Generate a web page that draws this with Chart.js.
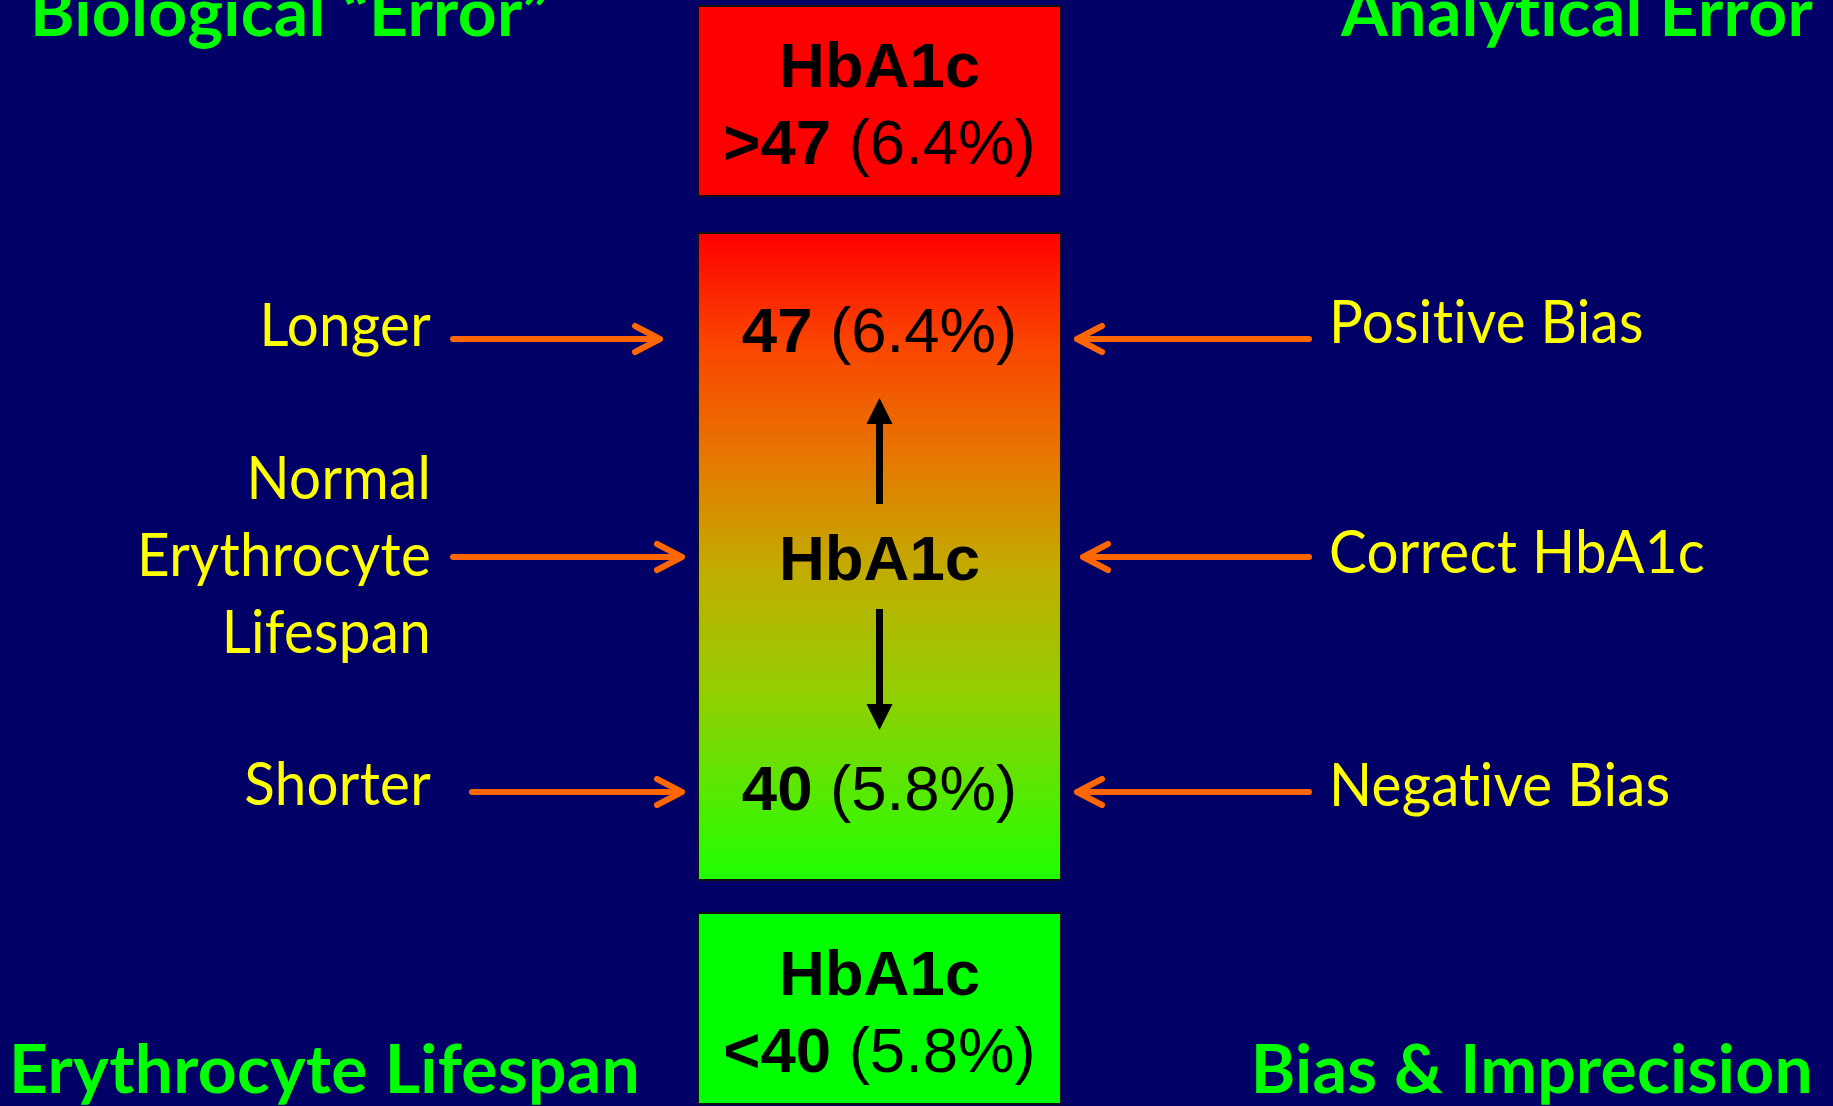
<!DOCTYPE html>
<html>
<head>
<meta charset="utf-8">
<script src="https://cdn.jsdelivr.net/npm/chart.js@4.4.1/dist/chart.umd.min.js"></script>
<style>
  html, body { margin: 0; padding: 0; background: #000066; }
  canvas { display: block; }
</style>
</head>
<body>
<canvas id="myChart" width="1833" height="1106"></canvas>
<script>
// --- content ---
const cornerTitles = ["Biological \u201CError\u201D", "Analytical Error", "Erythrocyte Lifespan", "Bias & Imprecision"]
const lifespanLabels = [["Longer"], ["Normal", "Erythrocyte", "Lifespan"], ["Shorter"]]
const biasLabels = ["Positive Bias", "Correct HbA1c", "Negative Bias"]
const thresholds = ["47", "40"]
const thresholdPercents = ["6.4%", "5.8%"]
const analyte = "HbA1c"

// --- layout (in scale units, y grows downward) ---
const rowY = [339, 557, 792]
const leftArrowStart = [453, 453, 472]
const leftArrowTip = [660, 682, 682]
const rightArrowStart = 1309
const rightArrowTip = [1077, 1083, 1077]
const leftTextRight = 431
const leftBaselines = [[346], [499, 576, 653], [805]]
const rightTextLeft = 1329
const rightBaselines = [343, 573, 806]
const boxX = [698, 1061]
const topBox = [6, 196]
const midBox = [233, 880]
const lowBox = [913, 1104]

const sans = "'Liberation Sans', Arial, sans-serif"
const cal = "Lato, 'Open Sans', sans-serif"

function drawMixed(c, parts, cx, y, size) {
  // parts: [text, bold]
  let widths = parts.map(([t, b]) => {
    c.font = (b ? "bold " : "") + size + "px " + sans
    return c.measureText(t).width
  })
  let total = widths.reduce((a, b) => a + b, 0)
  let x = cx - total / 2
  c.textAlign = "left"
  parts.forEach(([t, b], i) => {
    c.font = (b ? "bold " : "") + size + "px " + sans
    c.fillText(t, x, y)
    x += widths[i]
  })
}

function drawFitted(c, text, x, y, align, font, sx) {
  c.save()
  c.font = font
  c.textAlign = align
  c.translate(x, y)
  c.scale(sx, 1)
  c.fillText(text, 0, 0)
  c.restore()
}

const diagram = {
  id: "diagram",
  beforeDraw(chart) {
    const c = chart.ctx
    c.save()
    c.fillStyle = "#000066"
    c.fillRect(0, 0, chart.width, chart.height)
    c.restore()
  },
  afterDatasetsDraw(chart) {
    const c = chart.ctx
    const X = (v) => chart.scales.x.getPixelForValue(v)
    const Y = (v) => chart.scales.y.getPixelForValue(v)
    c.save()
    c.textBaseline = "alphabetic"
    // no "ti"/"fi" ligatures, like the original slide font
    if ("textRendering" in c) c.textRendering = "optimizeSpeed"
    if ("letterSpacing" in c) c.letterSpacing = "0.3px"

    // boxes
    const bx0 = X(boxX[0]), bx1 = X(boxX[1])
    c.lineWidth = 2
    c.strokeStyle = "#111111"
    c.fillStyle = "#FF0000"
    c.fillRect(bx0, Y(topBox[0]), bx1 - bx0, Y(topBox[1]) - Y(topBox[0]))
    c.strokeRect(bx0, Y(topBox[0]), bx1 - bx0, Y(topBox[1]) - Y(topBox[0]))
    let g = c.createLinearGradient(0, Y(midBox[0]), 0, Y(midBox[1]))
    g.addColorStop(0, "#FF0000")
    g.addColorStop(0.17, "#FA4400")
    g.addColorStop(0.35, "#E67800")
    g.addColorStop(0.52, "#C2AC00")
    g.addColorStop(0.7, "#96CC00")
    g.addColorStop(0.88, "#50EC00")
    g.addColorStop(1, "#1EFF00")
    c.fillStyle = g
    c.fillRect(bx0, Y(midBox[0]), bx1 - bx0, Y(midBox[1]) - Y(midBox[0]))
    c.strokeRect(bx0, Y(midBox[0]), bx1 - bx0, Y(midBox[1]) - Y(midBox[0]))
    c.fillStyle = "#00FF00"
    c.fillRect(bx0, Y(lowBox[0]), bx1 - bx0, Y(lowBox[1]) - Y(lowBox[0]))
    c.strokeRect(bx0, Y(lowBox[0]), bx1 - bx0, Y(lowBox[1]) - Y(lowBox[0]))

    // box texts
    const cx = (bx0 + bx1) / 2
    const fs = 63.5
    c.fillStyle = "#000000"
    c.letterSpacing = "0px"
    drawMixed(c, [[analyte, true]], cx, Y(87), fs)
    drawMixed(c, [[">" + thresholds[0], true], [" (" + thresholdPercents[0] + ")", false]], cx, Y(164), fs)
    drawMixed(c, [[thresholds[0], true], [" (" + thresholdPercents[0] + ")", false]], cx, Y(352), fs)
    drawMixed(c, [[analyte, true]], cx, Y(580), fs)
    drawMixed(c, [[thresholds[1], true], [" (" + thresholdPercents[1] + ")", false]], cx, Y(810), fs)
    drawMixed(c, [[analyte, true]], cx, Y(995), fs)
    drawMixed(c, [["<" + thresholds[1], true], [" (" + thresholdPercents[1] + ")", false]], cx, Y(1072), fs)
    if ("letterSpacing" in c) c.letterSpacing = "0.3px"

    // black up / down arrows
    c.strokeStyle = "#000000"
    c.lineWidth = 7
    c.beginPath()
    c.moveTo(cx, Y(504)); c.lineTo(cx, Y(418))
    c.moveTo(cx, Y(609)); c.lineTo(cx, Y(710))
    c.stroke()
    c.beginPath()
    c.moveTo(cx, Y(398)); c.lineTo(cx - 13, Y(424)); c.lineTo(cx + 13, Y(424)); c.closePath()
    c.moveTo(cx, Y(730)); c.lineTo(cx - 13, Y(704)); c.lineTo(cx + 13, Y(704)); c.closePath()
    c.fill()

    // orange pointer arrows
    c.strokeStyle = "#FF6600"
    c.lineWidth = 6
    c.lineCap = "round"
    c.lineJoin = "round"
    rowY.forEach((ry, i) => {
      const y = Y(ry)
      const lt = X(leftArrowTip[i])
      c.beginPath()
      c.moveTo(X(leftArrowStart[i]), y); c.lineTo(lt, y)
      c.moveTo(lt - 25, y - 13); c.lineTo(lt, y); c.lineTo(lt - 25, y + 13)
      c.stroke()
      const rt = X(rightArrowTip[i])
      c.beginPath()
      c.moveTo(X(rightArrowStart), y); c.lineTo(rt, y)
      c.moveTo(rt + 25, y - 13); c.lineTo(rt, y); c.lineTo(rt + 25, y + 13)
      c.stroke()
    })

    // yellow labels
    const yFont = "60px " + cal
    c.font = yFont
    const ySx = 376 / c.measureText(biasLabels[1]).width
    c.fillStyle = "#FFFF00"
    lifespanLabels.forEach((lines, i) => {
      lines.forEach((t, j) => drawFitted(c, t, X(leftTextRight), Y(leftBaselines[i][j]), "right", yFont, ySx))
    })
    biasLabels.forEach((t, i) => drawFitted(c, t, X(rightTextLeft), Y(rightBaselines[i]), "left", yFont, ySx))

    // green corner titles
    const gFont = "bold 66px " + cal
    c.font = gFont
    const gSx = 631 / c.measureText(cornerTitles[2]).width
    c.fillStyle = "#00FF00"
    drawFitted(c, cornerTitles[0], X(30), Y(36), "left", gFont, gSx)
    drawFitted(c, cornerTitles[1], X(1813), Y(36), "right", gFont, gSx)
    drawFitted(c, cornerTitles[2], X(9), Y(1093), "left", gFont, gSx)
    drawFitted(c, cornerTitles[3], X(1813), Y(1093), "right", gFont, gSx)
    c.restore()
  }
}

const ctx = document.getElementById("myChart")
new Chart(ctx, {
  type: "scatter",
  data: { datasets: [] },
  options: {
    responsive: false,
    animation: false,
    events: [],
    layout: { padding: 0 },
    plugins: { legend: { display: false }, tooltip: { enabled: false } },
    scales: {
      x: { type: "linear", min: 0, max: 1833, display: false },
      y: { type: "linear", min: 0, max: 1106, reverse: true, display: false }
    }
  },
  plugins: [diagram]
})
</script>
</body>
</html>
